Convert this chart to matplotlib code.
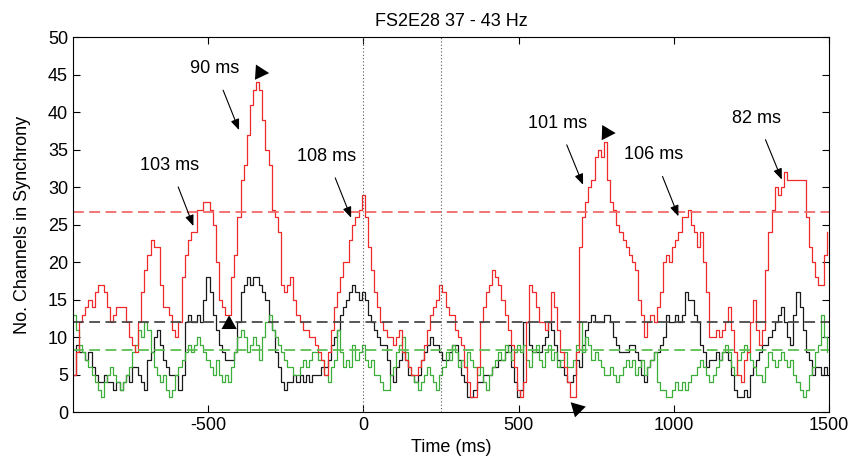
import numpy as np
import matplotlib
matplotlib.use("Agg")
import matplotlib.pyplot as plt

plt.rcParams['font.family'] = ['Liberation Sans', 'DejaVu Sans']
plt.rcParams['axes.unicode_minus'] = False

# time base (ms): one sample every 10 ms
t_start, t_step = -935, 10

red = [5, 8, 12, 13, 14, 15, 14, 16, 17, 17,
       16, 14, 12, 13, 14, 14, 14, 12, 10, 9,
       8, 12, 16, 19, 21, 23, 22, 22, 17, 14,
       14, 13, 11, 10, 12, 18, 21, 23, 24, 24,
       27, 27, 28, 28, 27, 25, 20, 15, 14, 13,
       13, 18, 21, 26, 31, 33, 37, 41, 43, 44,
       43, 39, 35, 33, 27, 26, 24, 17, 16, 17,
       18, 15, 13, 12, 11, 11, 10, 10, 9, 8,
       7, 5, 8, 11, 14, 16, 18, 20, 20, 23,
       25, 26, 27, 29, 26, 22, 19, 16, 14, 12,
       11, 10, 10, 9, 10, 11, 8, 7, 6, 5,
       5, 6, 7, 9, 11, 13, 14, 15, 17, 16,
       14, 13, 13, 11, 10, 9, 6, 4, 2, 2,
       6, 12, 14, 16, 17, 19, 18, 17, 15, 13,
       11, 9, 6, 3, 2, 4, 12, 17, 16, 14,
       12, 12, 11, 12, 16, 14, 11, 8, 6, 4,
       2, 2, 8, 22, 26, 28, 30, 31, 34, 35,
       34, 36, 31, 28, 27, 25, 24, 23, 22, 21,
       20, 19, 15, 13, 10, 12, 13, 12, 14, 16,
       20, 21, 20, 22, 23, 24, 26, 26, 27, 25,
       24, 22, 24, 20, 16, 10, 10, 11, 10, 11,
       12, 14, 11, 8, 5, 4, 7, 8, 12, 15,
       11, 9, 11, 19, 24, 27, 30, 29, 30, 32,
       31, 31, 31, 31, 31, 31, 26, 22, 20, 18,
       17, 17, 21, 24]

black = [5, 9, 8, 8, 7, 8, 6, 5, 4, 4,
         5, 4, 4, 3, 4, 3, 4, 5, 4, 6,
         6, 5, 4, 3, 7, 8, 10, 11, 9, 7,
         6, 5, 5, 5, 3, 5, 12, 13, 12, 12,
         13, 12, 15, 18, 16, 13, 11, 9, 8, 7,
         7, 7, 8, 12, 16, 17, 18, 17, 18, 18,
         17, 16, 15, 12, 11, 8, 6, 4, 3, 4,
         4, 5, 4, 5, 4, 5, 4, 5, 5, 5,
         6, 6, 7, 9, 10, 11, 13, 14, 15, 16,
         17, 16, 15, 16, 15, 13, 12, 11, 10, 9,
         9, 7, 5, 4, 6, 7, 8, 7, 5, 5,
         4, 5, 7, 8, 9, 10, 9, 9, 8, 7,
         7, 8, 9, 9, 7, 5, 4, 2, 2, 3,
         4, 4, 5, 5, 5, 6, 6, 7, 7, 8,
         9, 6, 4, 2, 3, 12, 12, 9, 8, 8,
         8, 9, 10, 12, 11, 9, 7, 6, 5, 4,
         4, 5, 7, 6, 9, 11, 12, 13, 12, 12,
         12, 13, 13, 12, 10, 9, 8, 8, 8, 9,
         9, 8, 7, 5, 4, 6, 7, 8, 8, 9,
         10, 13, 12, 12, 13, 12, 13, 16, 15, 15,
         13, 12, 9, 8, 6, 7, 7, 8, 7, 8,
         8, 7, 5, 3, 2, 2, 3, 2, 5, 6,
         7, 8, 9, 9, 10, 11, 12, 13, 14, 12,
         10, 9, 13, 16, 14, 11, 8, 7, 5, 6,
         6, 5, 6, 5]

green = [13, 11, 9, 8, 7, 6, 5, 4, 3, 2,
         4, 5, 6, 5, 4, 3, 4, 5, 6, 8,
         9, 11, 10, 12, 11, 8, 6, 5, 4, 5,
         3, 2, 3, 5, 6, 7, 8, 9, 8, 9,
         10, 9, 8, 7, 6, 5, 7, 5, 4, 5,
         4, 6, 8, 10, 11, 10, 8, 9, 10, 9,
         7, 10, 12, 13, 11, 10, 9, 8, 7, 6,
         6, 5, 5, 6, 7, 6, 7, 8, 8, 7,
         7, 5, 4, 6, 7, 11, 8, 6, 7, 6,
         9, 7, 8, 9, 7, 6, 7, 5, 5, 4,
         3, 3, 5, 6, 8, 9, 10, 8, 6, 5,
         4, 3, 4, 5, 6, 5, 4, 3, 5, 6,
         8, 7, 9, 8, 6, 7, 6, 8, 7, 6,
         5, 6, 4, 3, 5, 6, 7, 8, 7, 9,
         8, 7, 8, 9, 8, 9, 7, 6, 8, 9,
         7, 6, 8, 9, 7, 8, 6, 7, 8, 6,
         6, 7, 9, 12, 8, 10, 9, 7, 8, 7,
         6, 5, 5, 6, 5, 4, 5, 6, 7, 6,
         7, 5, 6, 7, 5, 6, 7, 8, 4, 3,
         3, 2, 2, 3, 4, 3, 4, 3, 4, 5,
         5, 6, 7, 6, 5, 4, 5, 6, 7, 8,
         9, 8, 6, 5, 7, 8, 9, 8, 7, 6,
         5, 5, 4, 6, 8, 7, 6, 7, 8, 7,
         6, 7, 5, 4, 3, 2, 3, 5, 6, 8,
         9, 13, 10, 8]

# significance thresholds
thr_red, thr_black, thr_green = 26.7, 12.0, 8.3
# event markers (ms)
event_lines = [0, 250]

# annotation labels: text position and arrow tip
ann_text = ["103 ms", "90 ms", "108 ms", "101 ms", "106 ms", "82 ms"]
ann_tx = [-623, -479, -118, 627, 936, 1267]
ann_ty = [32.9, 45.8, 34.1, 38.5, 34.3, 39.2]
ann_px = [-547, -400, -39, 708, 1015, 1348]
ann_py = [24.8, 37.6, 25.9, 30.3, 26.1, 31.0]

# big arrowheads: tip position and tail offset (points)
head_x = [-303, 813, -432, 668]
head_y = [45.2, 37.2, 12.9, 1.3]
head_ox = [-30, -30, 0, 22]
head_oy = [2, 1, -30, -22]

t = t_start + t_step * np.arange(len(red))

fig = plt.figure(figsize=(8.48, 4.58), dpi=100)
ax = fig.add_axes([0.086, 0.1004, 0.8916, 0.8186])

ax.plot(t, black, color='#1a1a1a', lw=0.9, drawstyle='steps-post')
ax.plot(t, green, color='#3cae3a', lw=0.9, drawstyle='steps-post')
ax.plot(t, red, color='#ee2a2a', lw=0.9, drawstyle='steps-post')

ax.axhline(thr_red, color='#f26a6a', lw=1.3, ls=(0, (6, 3)))
ax.axhline(thr_black, color='#4a4a4a', lw=1.3, ls=(0, (6, 3)))
ax.axhline(thr_green, color='#5cbf52', lw=1.3, ls=(0, (6, 3)))
for xv in event_lines:
    ax.axvline(xv, color='#555555', lw=0.8, ls=(0, (1, 2)))

for s, tx, ty, px, py in zip(ann_text, ann_tx, ann_ty, ann_px, ann_py):
    ax.annotate(s, xy=(px, py), xytext=(tx, ty), ha='center', va='center',
                fontsize=13,
                arrowprops=dict(arrowstyle='-|>,head_length=0.5,head_width=0.2',
                                color='black', lw=0.8,
                                mutation_scale=13, shrinkA=8, shrinkB=0))

for hx, hy, ox, oy in zip(head_x, head_y, head_ox, head_oy):
    ax.annotate('', xy=(hx, hy), xytext=(ox, oy), textcoords='offset points',
                arrowprops=dict(arrowstyle='-|>,head_length=0.45,head_width=0.25',
                                color='black', lw=0, mutation_scale=22,
                                shrinkA=0, shrinkB=0))

ax.set_xlim(-935, 1500)
ax.set_ylim(0, 50)
ax.set_xticks([-500, 0, 500, 1000, 1500])
ax.set_yticks(np.arange(0, 51, 5))
ax.tick_params(direction='in', top=True, right=True, length=5, labelsize=13,
               width=0.8)
for sp in ax.spines.values():
    sp.set_linewidth(0.8)
ax.set_xlabel('Time (ms)', fontsize=13, labelpad=4)
ax.set_ylabel('No. Channels in Synchrony', fontsize=13, labelpad=12)
ax.set_title('FS2E28 37 - 43 Hz', fontsize=13, pad=8)

fig.savefig('out.png', dpi=100)
